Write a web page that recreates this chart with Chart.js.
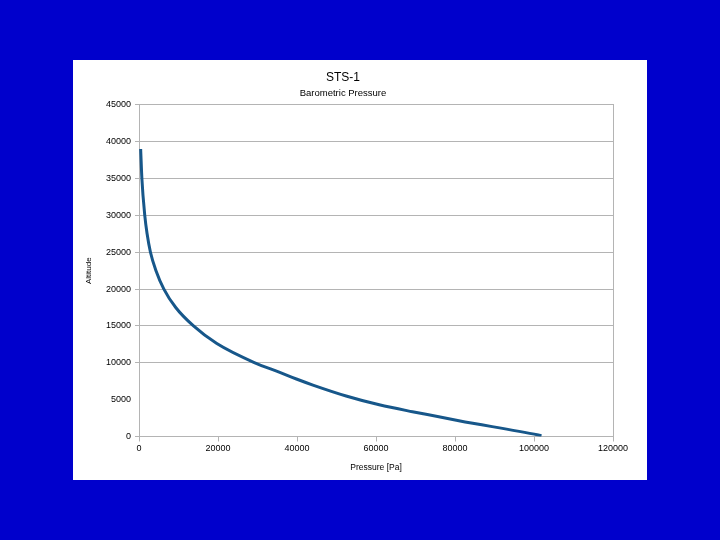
<!DOCTYPE html>
<html>
<head>
<meta charset="utf-8">
<script src="https://cdn.jsdelivr.net/npm/chart.js@4/dist/chart.umd.min.js"></script>
<style>
  html, body { margin: 0; padding: 0; }
  body { width: 720px; height: 540px; background: #0000cc; position: relative; overflow: hidden; }
  #panel { position: absolute; left: 73px; top: 60px; width: 574px; height: 420px; background: #fff; }
</style>
</head>
<body>
<div id="panel"><canvas id="chart" width="574" height="420"></canvas></div>
<script>
// Data: pressure [Pa] vs altitude
const pressure = [420, 730, 1460, 2050, 2900, 4300, 6300, 9300, 13800, 19700, 29350, 35640, 39850, 44030, 52440, 60830, 69220, 75900, 80980, 101100, 101900];
const altitude = [39000, 35000, 30000, 27500, 25000, 22500, 20000, 17500, 15000, 12610, 9990, 8700, 7800, 6980, 5500, 4300, 3360, 2680, 2140, 200, 100];

const xTicks = [0, 20000, 40000, 60000, 80000, 100000, 120000];
const yTicks = [0, 5000, 10000, 15000, 20000, 25000, 30000, 35000, 40000, 45000];

const GRID = '#b4b4b4';
const FONT = 'Liberation Sans';

const points = pressure.map((p, i) => ({ x: p, y: altitude[i] }));

new Chart(document.getElementById('chart').getContext('2d'), {
  type: 'scatter',
  data: {
    datasets: [{
      label: 'Altitude',
      data: points,
      showLine: true,
      borderColor: '#17578a',
      borderWidth: 3,
      pointRadius: 0,
      cubicInterpolationMode: 'monotone'
    }]
  },
  options: {
    responsive: false,
    animation: false,
    layout: { padding: { left: 0, right: 34, top: 0, bottom: 0 } },
    plugins: {
      legend: { display: false },
      tooltip: { enabled: false },
      title: {
        display: true,
        text: 'STS-1',
        color: '#000',
        font: { family: FONT, size: 12, weight: 'normal' },
        padding: { top: 10, bottom: 3 }
      },
      subtitle: {
        display: true,
        text: 'Barometric Pressure',
        color: '#000',
        font: { family: FONT, size: 9.5 },
        padding: { top: 0, bottom: 6 }
      }
    },
    scales: {
      x: {
        type: 'linear',
        min: 0,
        max: 120000,
        afterBuildTicks: (s) => { s.ticks = xTicks.map(v => ({ value: v })); },
        afterFit: (s) => { s.height = 43.5; },
        grid: { drawOnChartArea: false, color: GRID, tickLength: 5 },
        border: { color: GRID },
        ticks: { color: '#000', font: { family: FONT, size: 9 }, padding: 2, maxRotation: 0, callback: (v) => String(v) },
        title: { display: true, text: 'Pressure [Pa]', color: '#000', font: { family: FONT, size: 8.5 }, padding: { top: 4, bottom: 7 } }
      },
      y: {
        min: 0,
        max: 45000,
        afterBuildTicks: (s) => { s.ticks = yTicks.map(v => ({ value: v })); },
        afterFit: (s) => { s.width = 66; },
        grid: {
          color: (c) => (c.tick && c.tick.value === 5000) ? 'rgba(0,0,0,0)' : GRID,
          tickLength: 4
        },
        border: { color: GRID },
        ticks: { color: '#000', font: { family: FONT, size: 9 }, padding: 4, callback: (v) => String(v) },
        title: { display: true, text: 'Altitude', color: '#000', font: { family: FONT, size: 8 }, padding: { top: 11, bottom: 0 } }
      },
      yRight: {
        position: 'right',
        min: 0,
        max: 45000,
        afterFit: (s) => { s.width = 0; },
        grid: { display: false },
        ticks: { display: false },
        border: { color: GRID }
      }
    }
  }
});
</script>
</body>
</html>
